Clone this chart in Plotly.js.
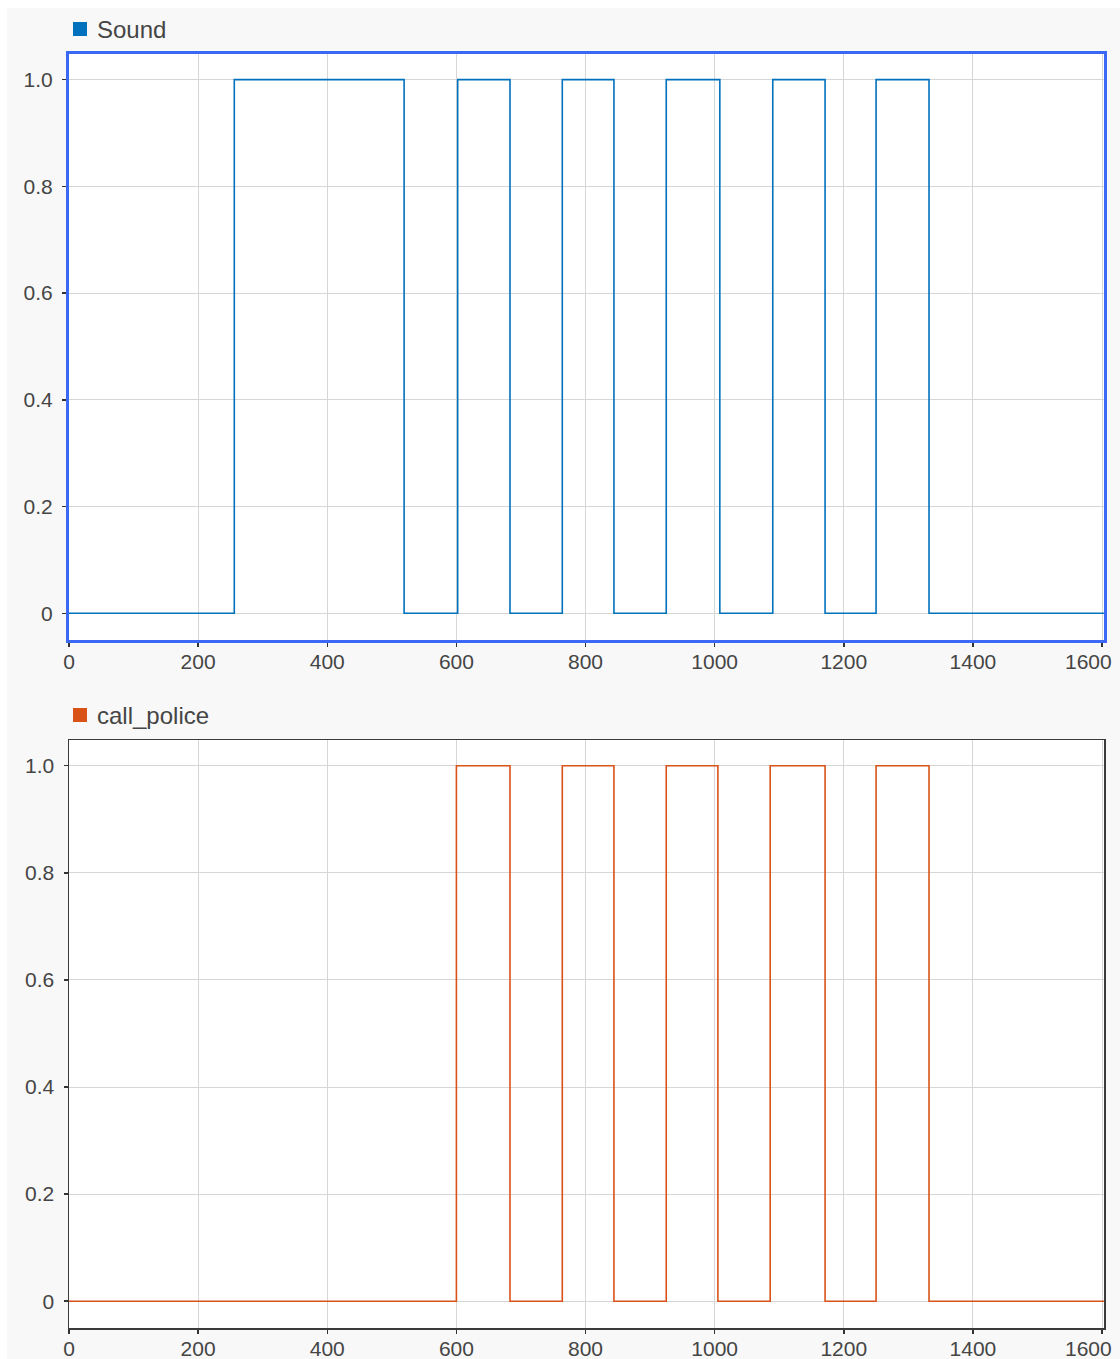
<!DOCTYPE html>
<html>
<head>
<meta charset="utf-8">
<script src="https://cdn.plot.ly/plotly-3.0.1.min.js"></script>
<style>
  html, body { margin: 0; padding: 0; background: #ffffff; }
  #chart { position: absolute; left: 7px; top: 8px; width: 1113px; height: 1351px; }
</style>
</head>
<body>
<div id="chart"></div>
<script>
// Step signal "Sound": time of each level change and the level held from there
const soundTime  = [0, 256, 519, 602, 683, 764, 844, 925, 1008, 1090, 1171, 1250, 1332, 1603];
const soundValue = [0, 1,   0,   1,   0,   1,   0,   1,   0,    1,    0,    1,    0,    0];

// Step signal "call_police"
const policeTime  = [0, 600, 683, 764, 844, 925, 1005, 1086, 1171, 1250, 1332, 1603];
const policeValue = [0, 1,   0,   1,   0,   1,   0,    1,    0,    1,    0,    0];

const seriesNames = ["Sound", "call_police"];
const seriesColors = ["#0072BD", "#D95319"];

const xTickVals = [0, 200, 400, 600, 800, 1000, 1200, 1400, 1600];
const xTickText = ["0", "200", "400", "600", "800", "1000", "1200", "1400", ""];
// the last label is placed at its tick through the axis, nudged left to stay inside the figure
const xLastTickVal = 1600;
const xLastTickText = "1600";
const yTickVals = [0, 0.2, 0.4, 0.6, 0.8, 1.0];
const yTickText = ["0", "0.2", "0.4", "0.6", "0.8", "1.0"];

const W = 1113, H = 1351;
const px = v => v / W;
const py = v => 1 - v / H;
const X_RANGE = [0, 1603];

const tickFont = {family: "Liberation Sans, Arial, sans-serif", size: 21, color: "#454545"};

function xAxis(lineColor, lineWidth, anchor) {
  return {
    domain: [px(62), px(1097)],
    range: X_RANGE,
    anchor: anchor,
    tickvals: xTickVals,
    ticktext: xTickText,
    ticks: "outside",
    ticklen: 4,
    tickwidth: 1.5,
    tickcolor: "#333333",
    tickfont: tickFont,
    ticklabelstandoff: -3,
    showgrid: true,
    gridcolor: "#d6d6d6",
    gridwidth: 1,
    zeroline: false,
    showline: true,
    linecolor: lineColor,
    linewidth: lineWidth,
    mirror: true,
    automargin: false,
    fixedrange: true
  };
}
function yAxis(domain, lineColor, lineWidth, anchor) {
  return {
    domain: domain,
    range: [-0.05, 1.048],
    anchor: anchor,
    tickvals: yTickVals,
    ticktext: yTickText,
    ticks: "outside",
    ticklen: 4,
    tickwidth: 1.5,
    tickcolor: "#333333",
    tickfont: tickFont,
    ticklabelstandoff: 5,
    showgrid: true,
    gridcolor: "#d6d6d6",
    gridwidth: 1,
    zeroline: false,
    showline: true,
    linecolor: lineColor,
    linewidth: lineWidth,
    mirror: true,
    automargin: false,
    fixedrange: true
  };
}

const topDomain = [py(632), py(46)];
const botDomain = [py(1320), py(732)];

const traces = [
  {
    x: soundTime, y: soundValue, name: seriesNames[0],
    type: "scatter", mode: "lines", line: {shape: "hv", color: seriesColors[0], width: 1.6},
    xaxis: "x", yaxis: "y", showlegend: false, hoverinfo: "skip"
  },
  {
    x: policeTime, y: policeValue, name: seriesNames[1],
    type: "scatter", mode: "lines", line: {shape: "hv", color: seriesColors[1], width: 1.6},
    xaxis: "x2", yaxis: "y2", showlegend: false, hoverinfo: "skip"
  }
];

const legendFont = {family: "Liberation Sans, Arial, sans-serif", size: 24, color: "#454545"};

const layout = {
  width: W, height: H,
  margin: {l: 0, r: 0, t: 0, b: 0},
  paper_bgcolor: "#f8f8f8",
  plot_bgcolor: "#ffffff",
  showlegend: false,
  xaxis: xAxis("#3b68f5", 3, "y"),
  yaxis: yAxis(topDomain, "#3b68f5", 3, "x"),
  xaxis2: xAxis("#3a3a3a", 1.5, "y2"),
  yaxis2: yAxis(botDomain, "#3a3a3a", 1.5, "x2"),
  shapes: [
    {type: "rect", xref: "paper", yref: "paper", x0: px(66), x1: px(80), y0: py(28), y1: py(14),
     fillcolor: seriesColors[0], line: {width: 0}},
    {type: "rect", xref: "paper", yref: "paper", x0: px(66), x1: px(80), y0: py(714), y1: py(700),
     fillcolor: seriesColors[1], line: {width: 0}}
  ],
  annotations: [
    {xref: "paper", yref: "paper", x: px(88), y: py(21), xanchor: "left", yanchor: "middle",
     text: seriesNames[0], showarrow: false, font: legendFont},
    {xref: "paper", yref: "paper", x: px(88), y: py(707), xanchor: "left", yanchor: "middle",
     text: seriesNames[1], showarrow: false, font: legendFont},
    {xref: "x", yref: "paper", x: xLastTickVal, y: py(653), xanchor: "center", yanchor: "middle",
     xshift: -14, text: xLastTickText, showarrow: false, font: tickFont},
    {xref: "x2", yref: "paper", x: xLastTickVal, y: py(1340), xanchor: "center", yanchor: "middle",
     xshift: -14, text: xLastTickText, showarrow: false, font: tickFont}
  ]
};

Plotly.newPlot("chart", traces, layout, {displayModeBar: false, staticPlot: true});
</script>
</body>
</html>
